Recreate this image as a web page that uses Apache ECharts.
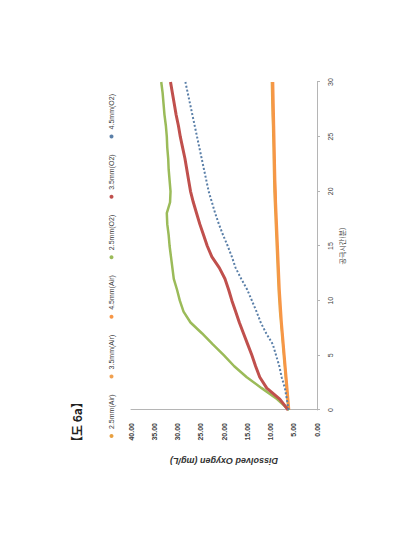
<!DOCTYPE html>
<html>
<head>
<meta charset="utf-8">
<script src="https://cdn.jsdelivr.net/npm/echarts@6/dist/echarts.min.js"></script>
<style>
  html, body { margin:0; padding:0; background:#fff; }
  body { width:398px; height:535px; position:relative; overflow:hidden; }
  #frame { position:absolute; left:4px; top:4px; width:388px; height:525px; border:1px solid #c4c4c4; }
  #chart { position:absolute; left:0; top:0; width:535px; height:398px;
           transform-origin:0 0; transform:translate(0px,535px) rotate(-90deg); }
</style>
</head>
<body>
<div id="frame"></div>
<div id="chart"></div>
<script>
// Aeration time (minutes)
const times = [0,1,2,3,4,5,6,7,8,9,10,11,12,13,14,15,16,17,18,19,20,21,22,23,24,25,26,27,28,29,30];
const timeTicks = [0,5,10,15,20,25,30];
const doTicks = [0,5,10,15,20,25,30,35,40];
const seriesNames = ['2.5mm(Air)','3.5mm(Air)','4.5mm(Air)','2.5mm(O2)','3.5mm(O2)','4.5mm(O2)'];

// Dissolved oxygen (mg/L)
const air25 = [6.2,6.4,6.6,6.8,7.0,7.2,7.4,7.6,7.8,8.0,8.15,8.3,8.4,8.5,8.6,8.7,8.8,8.9,9.0,9.1,9.2,9.25,9.3,9.35,9.4,9.45,9.5,9.6,9.65,9.7,9.75];
const air35 = [6.1,6.3,6.5,6.7,6.9,7.1,7.3,7.5,7.7,7.9,8.0,8.15,8.25,8.35,8.45,8.55,8.65,8.75,8.85,8.95,9.05,9.1,9.15,9.2,9.25,9.3,9.35,9.45,9.5,9.55,9.6];
const air45 = [6.0,6.2,6.4,6.6,6.8,7.0,7.2,7.4,7.6,7.75,7.9,8.05,8.15,8.25,8.35,8.45,8.55,8.65,8.75,8.85,8.9,9.0,9.05,9.1,9.15,9.2,9.25,9.3,9.35,9.4,9.45];
const o225 = [6.0,8.6,11.9,15.1,17.8,20.0,22.4,24.7,27.2,28.7,29.5,30.1,30.8,31.1,31.4,31.7,31.9,32.2,32.3,31.6,31.5,31.7,31.9,32.0,32.2,32.3,32.5,32.8,33.0,33.2,33.5];
const o235 = [6.2,8.0,10.8,12.3,13.2,14.0,14.9,15.8,16.7,17.5,18.3,19.0,19.8,21.0,22.6,23.6,24.4,25.2,25.9,26.6,27.2,27.6,28.0,28.4,28.9,29.4,29.8,30.3,30.7,31.1,31.5];
const o245 = [6.1,6.5,6.9,7.6,8.1,8.8,9.5,10.9,12.1,13.0,14.0,15.0,16.3,17.5,18.3,19.2,20.2,21.1,21.9,22.6,23.3,23.8,24.3,24.8,25.3,25.8,26.3,26.8,27.3,27.8,28.3];

const values = [air25, air35, air45, o225, o235, o245];
const colors = ['#E8A040','#F0A050','#F79646','#9BBB59','#C0504D','#5A7FA8'];
const widths = [2, 2, 2.5, 2.5, 3, 2];
const types = ['solid','solid','solid','solid','solid','dotted'];

const chart = echarts.init(document.getElementById('chart'), null, {renderer:'svg', width:535, height:398});
const font = 'Liberation Sans, Arial, sans-serif';

chart.setOption({
  animation:false,
  backgroundColor:'#ffffff',
  title:{
    text:'【도 6a】', left:82, top:65,
    textStyle:{fontSize:12, fontWeight:'bold', color:'#222', fontFamily:'Noto Sans CJK KR'}
  },
  legend:{
    data:seriesNames, left:97, top:108, itemGap:16, itemWidth:4, itemHeight:4, icon:'circle',
    textStyle:{fontSize:7, color:'#3a3a3a', fontFamily:font}, padding:0
  },
  grid:{left:125, right:82, top:131, bottom:81},
  xAxis:{
    type:'value', min:0, max:30, interval:5,
    name:'공극시간(분)', nameLocation:'middle', nameGap:21,
    nameTextStyle:{fontSize:7, color:'#3a3a3a', fontFamily:'Noto Sans CJK KR'},
    axisLine:{lineStyle:{color:'#b5b5b5'}},
    axisTick:{show:true, length:3, lineStyle:{color:'#b5b5b5'}},
    axisLabel:{fontSize:7, color:'#404040', margin:10, fontFamily:font,
      formatter:v => timeTicks.includes(v) ? String(v) : ''},
    splitLine:{show:false}
  },
  yAxis:{
    type:'value', min:0, max:40, interval:5,
    name:'Dissolved Oxygen (mg/L)', nameLocation:'middle', nameGap:46,
    nameTextStyle:{fontSize:9, fontWeight:'bold', fontStyle:'italic', color:'#333', fontFamily:font},
    axisLine:{show:true, lineStyle:{color:'#b5b5b5'}},
    axisTick:{show:false},
    axisLabel:{fontSize:7, color:'#404040', fontWeight:'bold', margin:13, fontFamily:font,
      formatter:v => doTicks.includes(v) ? v.toFixed(2) : ''},
    splitLine:{show:false}
  },
  series: seriesNames.map((n,i)=>({
    name:n, type:'line', showSymbol:false, symbol:'circle', smooth:false,
    color:colors[i],
    lineStyle:{color:colors[i], width:widths[i], type:types[i]},
    z: i<3 ? 2 : 3,
    data: times.map((t,k)=>[t, values[i][k]])
  }))
});
</script>
</body>
</html>
